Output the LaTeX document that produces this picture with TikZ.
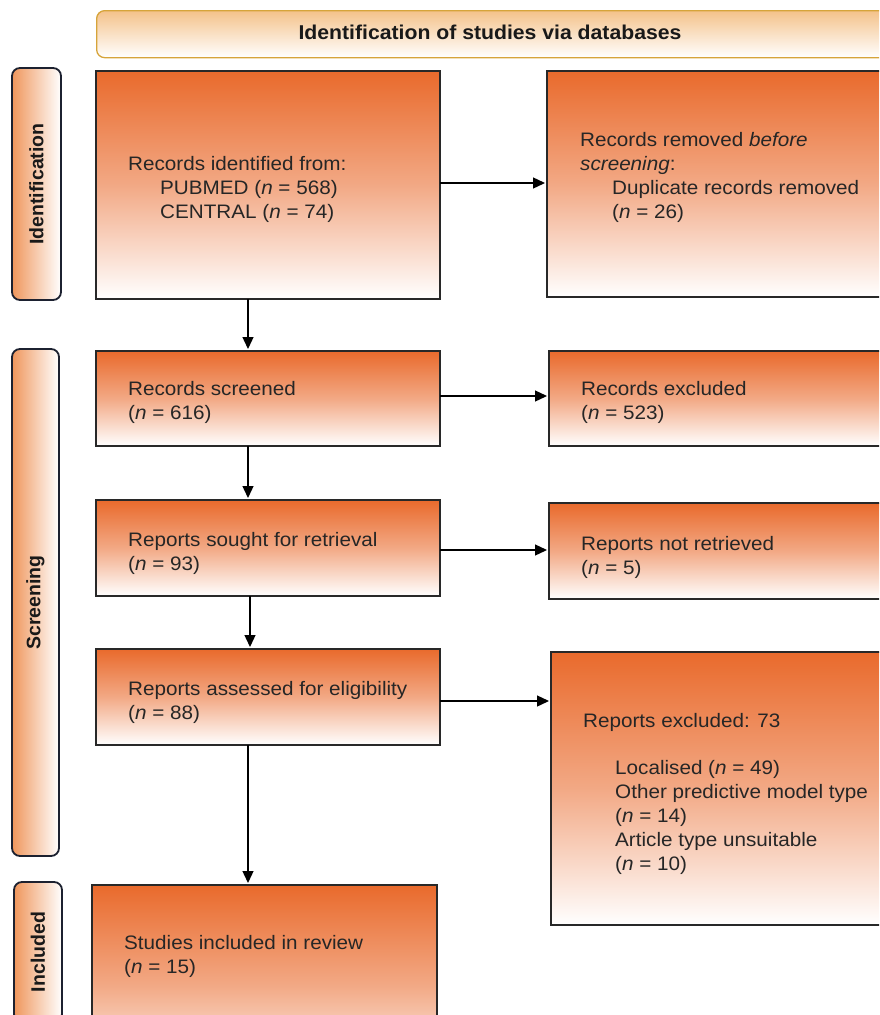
\documentclass[tikz,border=0pt]{standalone}
\usepackage{fontspec}
\setmainfont{Liberation Sans}[FakeStretch=1.06]
\newfontfamily\sidefont{Liberation Sans}
\usetikzlibrary{arrows.meta,calc}
\definecolor{boxorange}{RGB}{233,106,44}
\definecolor{sideorange}{RGB}{239,150,92}
\definecolor{headtop}{RGB}{244,194,138}
\definecolor{headline}{RGB}{214,164,58}
\definecolor{sideline}{RGB}{28,33,48}
\definecolor{boxline}{RGB}{40,40,40}
\begin{document}
\begin{tikzpicture}[x=1pt,y=-1pt,
  stagebox/.style={draw=boxline, line width=1.3pt, top color=boxorange, bottom color=white, middle color=boxorange!58!white, anchor=north west, inner sep=0pt, outer sep=0pt},
  sidebox/.style={draw=sideline, line width=1.8pt, rounded corners=8pt, left color=sideorange, right color=white, middle color=sideorange!50!white, anchor=north west, inner sep=0pt, outer sep=0pt},
  lbl/.style={anchor=north west, inner sep=0pt, align=left, font=\fontsize{19.5}{24}\selectfont, text=black!85},
  sidetext/.style={rotate=90, inner sep=0pt, font=\sidefont\bfseries\fontsize{19.5}{24}\selectfont, text=black!90},
  arr/.style={draw=black, line width=1.3pt, shorten >=2pt, -{Triangle[length=12pt,width=11pt]}}
]
\useasboundingbox (0,0) rectangle (879,1015);
\clip (0,0) rectangle (879,1015);

% header
\node[draw=headline, line width=1.3pt, rounded corners=8pt, top color=headtop, bottom color=white, anchor=north west, inner sep=0pt, minimum width=820pt, minimum height=47pt] (head) at (96,10) {};
\node[inner sep=0pt, font=\bfseries\fontsize{20}{24}\selectfont, text=black!90] (headtxt) at (490,32) {Identification of studies via databases};

% side bars
\node[sidebox, minimum width=49pt, minimum height=232pt] (s1) at (12,68) {};
\node[sidebox, minimum width=47pt, minimum height=507pt] (s2) at (12,349) {};
\node[sidebox, minimum width=48pt, minimum height=140pt] (s3) at (14,882) {};
\node[sidetext] (s1t) at (s1.center) {Identification};
\node[sidetext] (s2t) at (s2.center) {Screening};
\node[sidetext] (s3t) at (s3.center) {Included};

% boxes
\node[stagebox, minimum width=344pt, minimum height=228pt] (b1) at (96,71) {};
\node[stagebox, minimum width=400pt, minimum height=226pt] (b2) at (547,71) {};
\node[stagebox, minimum width=344pt, minimum height=95pt] (b3) at (96,351) {};
\node[stagebox, minimum width=400pt, minimum height=95pt] (b4) at (549,351) {};
\node[stagebox, minimum width=344pt, minimum height=96pt] (b5) at (96,500) {};
\node[stagebox, minimum width=400pt, minimum height=96pt] (b6) at (549,503) {};
\node[stagebox, minimum width=344pt, minimum height=96pt] (b7) at (96,649) {};
\node[stagebox, minimum width=400pt, minimum height=273pt] (b8) at (551,652) {};
\node[stagebox, minimum width=345pt, minimum height=200pt] (b9) at (92,885) {};

% texts
\node[lbl] (t1) at (128,156.5) {Records identified from:\\\hspace*{32pt}PUBMED (\textit{n} = 568)\\\hspace*{32pt}CENTRAL (\textit{n} = 74)};
\node[lbl] (t2) at (580,132.5) {Records removed \textit{before}\\\textit{screening}:\\\hspace*{32pt}Duplicate records removed\\\hspace*{32pt}(\textit{n} = 26)};
\node[lbl] (t3) at (128,381) {Records screened\\(\textit{n} = 616)};
\node[lbl] (t4) at (581,381) {Records excluded\\(\textit{n} = 523)};
\node[lbl] (t5) at (128,532) {Reports sought for retrieval\\(\textit{n} = 93)};
\node[lbl] (t6) at (581,536) {Reports not retrieved\\(\textit{n} = 5)};
\node[lbl] (t7) at (128,681) {Reports assessed for eligibility\\(\textit{n} = 88)};
\node[lbl] (t8) at (583,713) {Reports excluded: 73\\[23pt]\hspace*{32pt}Localised (\textit{n} = 49)\\\hspace*{32pt}Other predictive model type\\\hspace*{32pt}(\textit{n} = 14)\\\hspace*{32pt}Article type unsuitable\\\hspace*{32pt}(\textit{n} = 10)};
\node[lbl] (t9) at (124,935) {Studies included in review\\(\textit{n} = 15)};

% arrows
\draw[arr] (b1.east |- 0,183) -- (b2.west |- 0,183);
\draw[arr] (b3.east |- 0,396) -- (b4.west |- 0,396);
\draw[arr] (b5.east |- 0,550) -- (b6.west |- 0,550);
\draw[arr] (b7.east |- 0,701) -- (b8.west |- 0,701);
\draw[arr] (b1.south -| 248,0) -- (b3.north -| 248,0);
\draw[arr] (b3.south -| 248,0) -- (b5.north -| 248,0);
\draw[arr] (b5.south -| 250,0) -- (b7.north -| 250,0);
\draw[arr] (b7.south -| 248,0) -- (b9.north -| 248,0);
\end{tikzpicture}
\end{document}
